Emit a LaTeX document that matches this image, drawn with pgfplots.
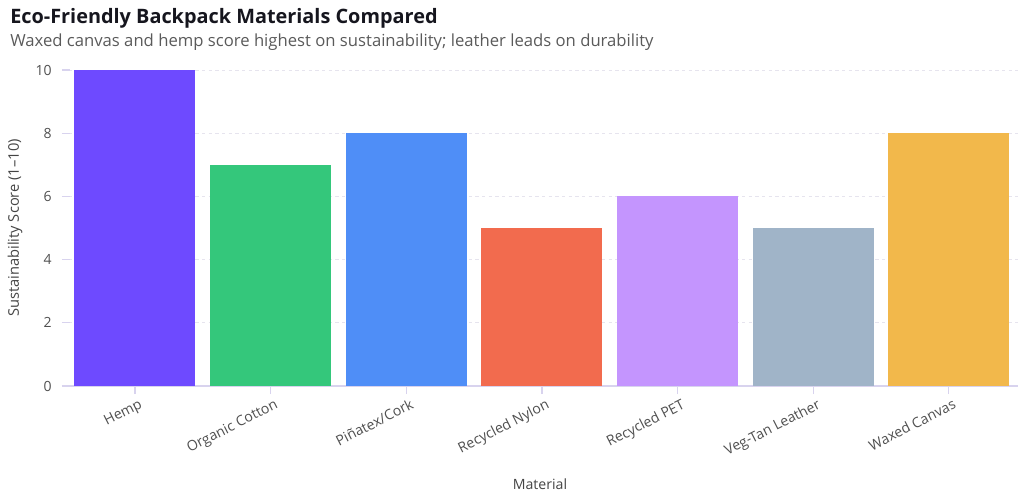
\documentclass[border=0pt]{standalone}
\usepackage{fontspec}
\setmainfont{Open Sans}
\usepackage{pgfplots}
\pgfplotsset{compat=1.18}
\definecolor{titlec}{HTML}{16161E}
\definecolor{subc}{HTML}{5A5A5A}
\definecolor{tickc}{HTML}{505050}
\definecolor{labc}{HTML}{444444}
\definecolor{axisc}{HTML}{D8D3EE}
\definecolor{gridc}{HTML}{E6E4EE}
\definecolor{c1}{HTML}{6E4AFF}
\definecolor{c2}{HTML}{34C77B}
\definecolor{c3}{HTML}{4F8EF7}
\definecolor{c4}{HTML}{F26B4E}
\definecolor{c5}{HTML}{C495FE}
\definecolor{c6}{HTML}{A0B4C8}
\definecolor{c7}{HTML}{F2B84B}
\begin{document}
\begin{tikzpicture}
\path[use as bounding box] (0,0) rectangle (768pt,375pt);
\node[anchor=base west, inner sep=0pt, font=\fontsize{14.9pt}{17pt}\selectfont\bfseries, text=titlec] at (7.5pt,357pt) {Eco-Friendly Backpack Materials Compared};
\node[anchor=base west, inner sep=0pt, font=\fontsize{12.5pt}{14pt}\selectfont, text=subc] at (7.5pt,340pt) {Waxed canvas and hemp score highest on sustainability; leather leads on durability};
\begin{axis}[
  at={(46.5pt,85.5pt)}, anchor=south west, scale only axis,
  width=717pt, height=237pt,
  xmin=-0.538, xmax=6.51, ymin=0, ymax=10,
  ybar, bar width=90.75pt, bar shift=0pt,
  xtick={0,1,2,3,4,5,6},
  xticklabels={Hemp, Organic Cotton, Piñatex/Cork, Recycled Nylon, Recycled PET, Veg-Tan Leather, Waxed Canvas},
  ytick={0,2,4,6,8,10},
  /pgf/number format/assume math mode=true,
  axis lines*=left,
  x axis line style={-, draw=axisc, line width=0.9pt},
  y axis line style={draw=none},
  tick align=inside, major tick length=6pt,
  xtick style={draw=axisc, line width=0.9pt, yshift=-6pt},
  ytick style={draw=axisc, line width=0.9pt},
  ymajorgrids,
  grid style={draw=gridc, line width=0.6pt, dash pattern=on 2.5pt off 2.5pt},
  yticklabel style={font=\fontsize{10.5pt}{12pt}\selectfont, text=tickc, anchor=east, inner sep=0pt, xshift=-7.5pt},
  xticklabel style={font=\fontsize{10.6pt}{12pt}\selectfont, text=tickc, inner sep=0pt, xshift=2.5pt, yshift=-9pt, rotate=27, anchor=north east},
  xlabel={Material},
  xlabel style={font=\fontsize{10.6pt}{12pt}\selectfont, text=labc, at={(axis description cs:0.5,0)}, anchor=base, yshift=-77.25pt},
  ylabel={Sustainability Score (1–10)},
  ylabel style={font=\fontsize{11pt}{12pt}\selectfont, text=labc, at={(axis description cs:0,0.5)}, anchor=center, yshift=35.25pt},
  clip=false,
]
\addplot[fill=c1, draw=none] coordinates {(0,10)};
\addplot[fill=c2, draw=none] coordinates {(1,7)};
\addplot[fill=c3, draw=none] coordinates {(2,8)};
\addplot[fill=c4, draw=none] coordinates {(3,5)};
\addplot[fill=c5, draw=none] coordinates {(4,6)};
\addplot[fill=c6, draw=none] coordinates {(5,5)};
\addplot[fill=c7, draw=none] coordinates {(6,8)};
\end{axis}
\end{tikzpicture}
\end{document}
